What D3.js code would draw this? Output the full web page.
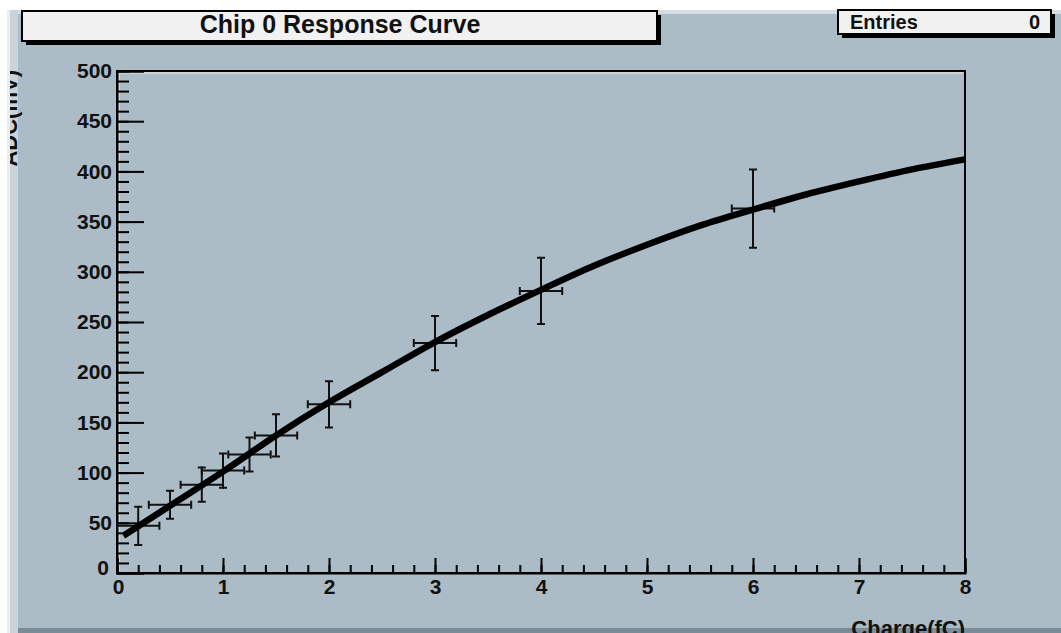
<!DOCTYPE html>
<html lang="en">
  <head>
    <meta charset="UTF-8" />
    <title>Chip 0 Response Curve</title>
    <script src="https://d3js.org/d3.v7.min.js"></script>
    <style>
      body { margin: 0; background: #fff; }
      text { font-family: 'Liberation Sans', Arial, sans-serif; font-weight: bold; fill: #111; }
    </style>
  </head>
  <body>
    <div id="chart"></div>
    <script>
      // measured points (charge in fC, response in ADC) with errors
      const pointX = [0.2, 0.5, 0.8, 1.0, 1.25, 1.5, 2, 3, 4, 6];
      const pointY = [47, 68, 88, 102, 118, 137, 168, 229, 281, 363];
      const errX = [0.2, 0.2, 0.2, 0.2, 0.2, 0.2, 0.2, 0.2, 0.2, 0.2];
      const errY = [19, 14, 17, 17, 17, 21, 23, 27, 33, 39];

      // fitted response curve
      const fitX = [0.06, 0.5, 1, 1.5, 2, 2.5, 3, 3.5, 4, 4.5, 5, 5.5, 6, 6.5, 7, 7.5, 8];
      const fitY = [37, 67, 101, 137, 170, 200, 230, 257, 282, 306, 327, 346, 362, 377, 390, 402, 412];

      const xDomain = [0, 8];
      const yDomain = [0, 500];

      const W = 1061, H = 633;
      const frame = { left: 117, right: 965, top: 71, bottom: 573 };

      const svg = d3.select('#chart')
        .append('svg')
          .attr('width', W)
          .attr('height', H);

      const defs = svg.append('defs');
      defs.append('clipPath')
          .attr('id', 'ylabclip')
        .append('rect')
          .attr('x', 10).attr('y', 0).attr('width', 40).attr('height', H);

      // pad background + bevel
      svg.append('rect')
        .attr('x', 7).attr('y', 10).attr('width', W - 7).attr('height', H - 10)
        .attr('fill', '#acbcc6');
      svg.append('rect')
        .attr('x', 7).attr('y', 10).attr('width', W - 7).attr('height', 4)
        .attr('fill', '#d6dee3');
      svg.append('rect')
        .attr('x', 7).attr('y', 10).attr('width', 3).attr('height', H - 10)
        .attr('fill', '#e9edef');
      svg.append('rect')
        .attr('x', 10).attr('y', 10).attr('width', 8).attr('height', H - 10)
        .attr('fill', '#cad3d9');
      svg.append('rect')
        .attr('x', 18).attr('y', 628).attr('width', W - 18).attr('height', 5)
        .attr('fill', '#7b8c99');

      // y title, mostly cut off by the pad edge
      svg.append('g')
          .attr('clip-path', 'url(#ylabclip)')
        .append('text')
          .attr('transform', 'translate(17,70) rotate(-90)')
          .attr('text-anchor', 'end')
          .style('font-size', '22px')
          .text('ADC(mV)');

      const x = d3.scaleLinear().domain(xDomain).range([frame.left, frame.right]);
      const y = d3.scaleLinear().domain(yDomain).range([frame.bottom, frame.top]);

      // frame
      svg.append('rect')
        .attr('x', frame.left).attr('y', frame.top)
        .attr('width', frame.right - frame.left)
        .attr('height', frame.bottom - frame.top)
        .attr('fill', 'none')
        .attr('stroke', '#000')
        .attr('stroke-width', 2);
      svg.append('path')
        .attr('d', `M${frame.left + 2},${frame.bottom - 2}V${frame.top + 2}H${frame.right - 2}`)
        .attr('fill', 'none')
        .attr('stroke', '#d2dbe0')
        .attr('stroke-width', 1.5);

      // x axis: minor ticks then major ticks with labels
      svg.append('g')
        .attr('transform', `translate(0,${frame.bottom})`)
        .call(d3.axisBottom(x).tickValues(x.ticks(40)).tickSize(-8).tickFormat(''))
        .call(g => g.select('.domain').remove());
      const xAxis = svg.append('g')
        .attr('transform', `translate(0,${frame.bottom})`)
        .call(d3.axisBottom(x).ticks(8).tickSize(-15).tickPadding(6).tickFormat(d3.format('d')));
      xAxis.selectAll('text').style('font-size', '21px').attr('fill', '#111');
      xAxis.selectAll('.tick').filter(d => d === 0).select('text').attr('x', 1);

      // y axis
      svg.append('g')
        .attr('transform', `translate(${frame.left},0)`)
        .call(d3.axisRight(y).tickValues(y.ticks(50)).tickSize(12).tickFormat(''))
        .call(g => g.select('.domain').remove());
      const yAxis = svg.append('g')
        .attr('transform', `translate(${frame.left},0)`)
        .call(d3.axisLeft(y).ticks(10).tickSize(-27).tickPadding(5).tickFormat(d3.format('d')));
      yAxis.selectAll('text').style('font-size', '21px').attr('fill', '#111');
      yAxis.selectAll('.tick').filter(d => d === 0).select('text').attr('y', -5).attr('x', -8);

      svg.selectAll('.tick line, .domain')
        .attr('stroke', '#000')
        .attr('stroke-width', 2);

      // x title, cut by the bottom edge
      svg.append('text')
        .attr('x', frame.right)
        .attr('y', 636)
        .attr('text-anchor', 'end')
        .style('font-size', '22px')
        .text('Charge(fC)');

      // error bars
      const pts = pointX.map((v, i) => ({ x: v, y: pointY[i], ex: errX[i], ey: errY[i] }));
      const eb = svg.append('g')
        .attr('stroke', '#111')
        .attr('stroke-width', 2)
        .attr('fill', 'none');
      eb.selectAll('path')
        .data(pts)
        .join('path')
          .attr('d', d => {
            const cx = x(d.x), cy = y(d.y);
            const x0 = x(d.x - d.ex), x1 = x(d.x + d.ex);
            const y0 = y(d.y - d.ey), y1 = y(d.y + d.ey);
            return `M${cx},${y0}V${y1}M${cx - 4},${y0}H${cx + 4}M${cx - 4},${y1}H${cx + 4}` +
              `M${x0},${cy}H${x1}M${x0},${cy - 4}V${cy + 4}M${x1},${cy - 4}V${cy + 4}`;
          });

      // fitted curve
      const fit = fitX.map((v, i) => ({ x: v, y: fitY[i] }));
      svg.append('path')
        .datum(fit)
        .attr('fill', 'none')
        .attr('stroke', '#000')
        .attr('stroke-width', 6.5)
        .attr('d', d3.line().x(d => x(d.x)).y(d => y(d.y)).curve(d3.curveCatmullRom.alpha(0.5)));

      // title box
      const drawBox = (bx, by, bw, bh) => {
        svg.append('rect')
          .attr('x', bx + 4).attr('y', by + 4).attr('width', bw).attr('height', bh)
          .attr('fill', '#000');
        svg.append('rect')
          .attr('x', bx).attr('y', by).attr('width', bw).attr('height', bh)
          .attr('fill', '#f1f1f1')
          .attr('stroke', '#000')
          .attr('stroke-width', 2);
      };
      drawBox(22, 11, 635, 30);
      svg.append('text')
        .attr('x', 340)
        .attr('y', 33)
        .attr('text-anchor', 'middle')
        .style('font-size', '25px')
        .text('Chip 0 Response Curve');

      drawBox(838, 10, 213, 24);
      svg.append('text')
        .attr('x', 850).attr('y', 29)
        .style('font-size', '20px')
        .text('Entries');
      svg.append('text')
        .attr('x', 1040).attr('y', 29)
        .attr('text-anchor', 'end')
        .style('font-size', '20px')
        .text('0');
    </script>
  </body>
</html>
